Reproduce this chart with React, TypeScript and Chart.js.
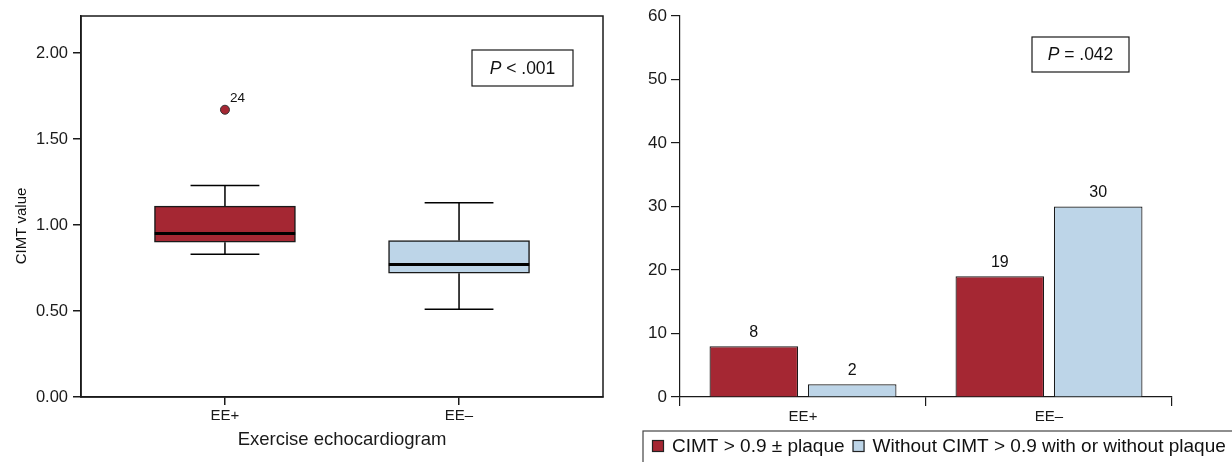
import { useEffect, useRef } from 'react';
import { Chart, registerables } from 'chart.js';

Chart.register(...registerables);

const FONT = 'Arial, "Liberation Sans", Helvetica, sans-serif';
const RED = '#A52733';
const BLUE = '#BDD5E8';
const INK = '#1a1a1a';

// ---- Left panel: CIMT value box plot ----
const groups = ['EE+', 'EE\u2013'];
const whiskerLow = [0.83, 0.51];
const q1 = [0.9, 0.72];
const median = [0.95, 0.77];
const q3 = [1.11, 0.91];
const whiskerHigh = [1.23, 1.13];
const outlierGroup = [1];
const outlierValue = [1.67];
const outlierId = ['24'];
const leftYTicks = [0, 0.5, 1, 1.5, 2];
const leftP = ' < .001';

// ---- Right panel: counts ----
const seriesNames = ['CIMT > 0.9 \u00b1 plaque', 'Without CIMT > 0.9 with or without plaque'];
const plaqueCounts = [8, 19];
const noPlaqueCounts = [2, 30];
const rightYTicks = [0, 10, 20, 30, 40, 50, 60];
const rightP = ' = .042';

function drawPBox(ctx: CanvasRenderingContext2D, x0: number, y0: number, w: number, h: number, rest: string) {
  ctx.save();
  ctx.strokeStyle = INK;
  ctx.lineWidth = 1.2;
  ctx.strokeRect(x0, y0, w, h);
  const size = 17.5;
  ctx.font = `italic ${size}px ${FONT}`;
  const pw = ctx.measureText('P').width;
  ctx.font = `${size}px ${FONT}`;
  const rw = ctx.measureText(rest).width;
  const x = x0 + (w - pw - rw) / 2;
  const y = y0 + h / 2 + 1;
  ctx.fillStyle = '#111';
  ctx.textBaseline = 'middle';
  ctx.textAlign = 'left';
  ctx.font = `italic ${size}px ${FONT}`;
  ctx.fillText('P', x, y);
  ctx.font = `${size}px ${FONT}`;
  ctx.fillText(rest, x + pw, y);
  ctx.restore();
}

function leftConfig(): any {
  const boxHalf = 0.3;
  const capHalf = 0.147;
  const whiskers: any[] = [];
  const medians: any[] = [];
  groups.forEach((_, i) => {
    const x = i + 1;
    whiskers.push(
      { x, y: q3[i] }, { x, y: whiskerHigh[i] }, { x, y: null },
      { x, y: q1[i] }, { x, y: whiskerLow[i] }, { x, y: null },
      { x: x - capHalf, y: whiskerHigh[i] }, { x: x + capHalf, y: whiskerHigh[i] }, { x, y: null },
      { x: x - capHalf, y: whiskerLow[i] }, { x: x + capHalf, y: whiskerLow[i] }, { x, y: null }
    );
    medians.push({ x: x - boxHalf, y: median[i] }, { x: x + boxHalf, y: median[i] }, { x, y: null });
  });

  const framePlugin = {
    id: 'frame',
    afterDraw(chart: any) {
      const { ctx, chartArea: a } = chart;
      ctx.save();
      ctx.strokeStyle = INK;
      ctx.lineWidth = 1.5;
      ctx.strokeRect(a.left, a.top, a.right - a.left, a.bottom - a.top);
      // outlier labels
      const meta = chart.getDatasetMeta(3);
      ctx.font = `13.5px ${FONT}`;
      ctx.fillStyle = '#111';
      ctx.textBaseline = 'middle';
      ctx.textAlign = 'left';
      meta.data.forEach((pt: any, i: number) => {
        ctx.fillText(outlierId[i], pt.x + 5, pt.y - 11);
      });
      // y axis title
      ctx.save();
      ctx.translate(22, 226);
      ctx.rotate(-Math.PI / 2);
      ctx.font = `15px ${FONT}`;
      ctx.textAlign = 'center';
      ctx.fillText('CIMT value', 0, 0);
      ctx.restore();
      ctx.restore();
      drawPBox(ctx, 472, 50, 101, 36, leftP);
    },
  };

  return {
    type: 'bar',
    data: {
      datasets: [
        {
          type: 'bar',
          data: groups.map((_, i) => ({ x: i + 1, y: [q1[i], q3[i]] })),
          backgroundColor: [RED, BLUE],
          borderColor: INK,
          borderWidth: 1.5,
          borderSkipped: false,
          barThickness: 141,
          order: 3,
        },
        {
          type: 'line',
          data: whiskers,
          borderColor: '#000',
          borderWidth: 1.5,
          pointRadius: 0,
          spanGaps: false,
          order: 2,
        },
        {
          type: 'line',
          data: medians,
          borderColor: '#000',
          borderWidth: 3,
          pointRadius: 0,
          spanGaps: false,
          order: 1,
        },
        {
          type: 'scatter',
          data: outlierGroup.map((g, i) => ({ x: g, y: outlierValue[i] })),
          backgroundColor: RED,
          borderColor: '#333',
          borderWidth: 1,
          pointRadius: 4.5,
          order: 0,
        },
      ],
    },
    options: {
      responsive: false,
      animation: false,
      layout: { padding: { top: 16, right: 13, left: 0, bottom: 0 } },
      plugins: { legend: { display: false }, tooltip: { enabled: false } },
      scales: {
        x: {
          type: 'linear',
          min: 0.385,
          max: 2.615,
          offset: false,
          afterBuildTicks: (s: any) => { s.ticks = groups.map((_, i) => ({ value: i + 1 })); },
          afterFit: (s: any) => { s.height = 65; },
          ticks: {
            callback: (v: any) => groups[Math.round(v) - 1],
            font: { family: FONT, size: 15 },
            color: INK,
            padding: 2,
            autoSkip: false,
            maxRotation: 0,
          },
          grid: { offset: false, drawOnChartArea: false, drawTicks: true, tickLength: 8, color: INK, lineWidth: 1.5 },
          border: { display: true, color: INK, width: 1.5 },
          title: {
            display: true,
            text: 'Exercise echocardiogram',
            font: { family: FONT, size: 18.5 },
            color: INK,
            padding: { top: 0, bottom: 11 },
          },
        },
        y: {
          type: 'linear',
          min: 0,
          max: 2.215,
          afterBuildTicks: (s: any) => { s.ticks = leftYTicks.map((v) => ({ value: v })); },
          afterFit: (s: any) => { s.width = 81; },
          ticks: {
            callback: (v: any) => Number(v).toFixed(2),
            font: { family: FONT, size: 16.5 },
            color: INK,
            padding: 5,
          },
          grid: { drawOnChartArea: false, drawTicks: true, tickLength: 8, color: INK, lineWidth: 1.5 },
          border: { display: true, color: INK, width: 1.5 },
        },
      },
    },
    plugins: [framePlugin],
  };
}

function rightConfig(): any {
  const annot = {
    id: 'annot',
    afterDraw(chart: any) {
      const { ctx } = chart;
      ctx.save();
      ctx.font = `16px ${FONT}`;
      ctx.fillStyle = '#111';
      ctx.textAlign = 'center';
      ctx.textBaseline = 'middle';
      chart.data.datasets.forEach((ds: any, di: number) => {
        const meta = chart.getDatasetMeta(di);
        meta.data.forEach((bar: any, i: number) => {
          ctx.fillText(String(ds.data[i]), bar.x, bar.y - 14);
        });
      });
      // legend
      const top = 431;
      ctx.strokeStyle = '#444';
      ctx.lineWidth = 1.2;
      ctx.strokeRect(27, top, 700, 60);
      ctx.font = `19px ${FONT}`;
      ctx.textAlign = 'left';
      let x = 36;
      chart.data.datasets.forEach((ds: any) => {
        ctx.fillStyle = ds.backgroundColor;
        ctx.fillRect(x, top + 9, 12, 12);
        ctx.strokeStyle = '#222';
        ctx.lineWidth = 1.2;
        ctx.strokeRect(x + 0.5, top + 9.5, 11, 11);
        ctx.fillStyle = '#111';
        ctx.fillText(ds.label, x + 20, top + 16);
        x += 20 + ctx.measureText(ds.label).width + 8;
      });
      ctx.restore();
      drawPBox(ctx, 416, 37, 97, 35, rightP);
    },
  };

  return {
    type: 'bar',
    data: {
      labels: groups,
      datasets: [
        { label: seriesNames[0], data: plaqueCounts, backgroundColor: RED, borderColor: INK, borderWidth: 1.2 },
        { label: seriesNames[1], data: noPlaqueCounts, backgroundColor: BLUE, borderColor: INK, borderWidth: 1.2 },
      ],
    },
    options: {
      responsive: false,
      animation: false,
      layout: { padding: { top: 16, right: 60, left: 0, bottom: 0 } },
      plugins: { legend: { display: false }, tooltip: { enabled: false } },
      scales: {
        x: {
          offset: true,
          afterFit: (s: any) => { s.height = 65; },
          ticks: { font: { family: FONT, size: 15 }, color: INK, padding: 2, maxRotation: 0 },
          grid: { offset: true, drawOnChartArea: false, drawTicks: true, tickLength: 9, color: INK, lineWidth: 1.2 },
          border: { display: true, color: INK, width: 1.2 },
        },
        y: {
          min: 0,
          max: 60,
          afterBuildTicks: (s: any) => { s.ticks = rightYTicks.map((v) => ({ value: v })); },
          afterFit: (s: any) => { s.width = 64; },
          ticks: { font: { family: FONT, size: 17 }, color: INK, padding: 4 },
          grid: { drawOnChartArea: false, drawTicks: true, tickLength: 9, color: INK, lineWidth: 1.2 },
          border: { display: true, color: INK, width: 1.2 },
        },
      },
    },
    plugins: [annot],
  };
}

export default function App() {
  const leftRef = useRef<HTMLCanvasElement>(null);
  const rightRef = useRef<HTMLCanvasElement>(null);
  useEffect(() => {
    const left = new Chart(leftRef.current as HTMLCanvasElement, leftConfig());
    const right = new Chart(rightRef.current as HTMLCanvasElement, rightConfig());
    return () => {
      left.destroy();
      right.destroy();
    };
  }, []);
  return (
    <div style={{ position: 'fixed', left: 0, top: 0, width: 1232, height: 462, background: '#fff', overflow: 'hidden' }}>
      <canvas ref={leftRef} width={616} height={462} style={{ position: 'absolute', left: 0, top: 0, width: 616, height: 462 }} />
      <canvas ref={rightRef} width={616} height={462} style={{ position: 'absolute', left: 616, top: 0, width: 616, height: 462 }} />
    </div>
  );
}
